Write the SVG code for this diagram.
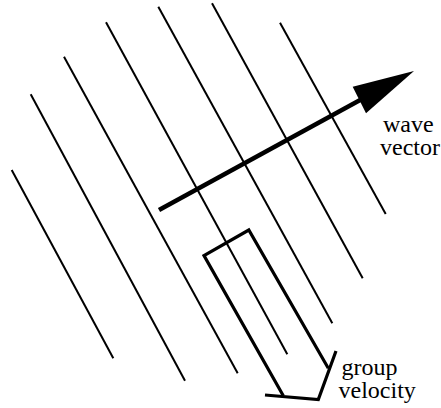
<svg xmlns="http://www.w3.org/2000/svg" width="441" height="408" viewBox="0 0 441 408">
<style>
.wf{stroke:#000;stroke-width:2;fill:none}
.gv{stroke:#000;stroke-width:3.2;fill:none;stroke-linejoin:miter}
text{font-family:'Liberation Serif','Times New Roman','DejaVu Serif',serif;font-size:24px;fill:#000}
</style>
<g id="wavefronts">
<line class="wf" x1="11.7" y1="170" x2="113.3" y2="358.3"/>
<line class="wf" x1="30.7" y1="94.3" x2="185" y2="380.7"/>
<line class="wf" x1="64" y1="56.7" x2="237.7" y2="373.3"/>
<line class="wf" x1="106" y1="22.3" x2="287.3" y2="354.3"/>
<line class="wf" x1="158.3" y1="6.7" x2="332.3" y2="323.3"/>
<line class="wf" x1="212" y1="3.3" x2="362.7" y2="278.3"/>
<line class="wf" x1="280" y1="22.7" x2="385.7" y2="214"/>
</g>
<g id="connectors">
<g id="wave-vector">
<line x1="159" y1="210" x2="362" y2="99" stroke="#000" stroke-width="4.5"/>
<polygon points="414,71 352.7,86.7 366,113.3" fill="#000"/>
</g>
<g id="group-velocity">
<polyline class="gv" points="283.3,395.7 204,255.5 248.8,230 328.3,368.3"/>
<polyline class="gv" points="265,395 318.3,399.5 336,351"/>
</g>
</g>
<g id="label-wave">
<text x="383" y="132">wave</text>
<text x="380" y="155">vector</text>
</g>
<g id="label-group">
<text x="341.5" y="375">group</text>
<text x="338.5" y="398">velocity</text>
</g>
</svg>
